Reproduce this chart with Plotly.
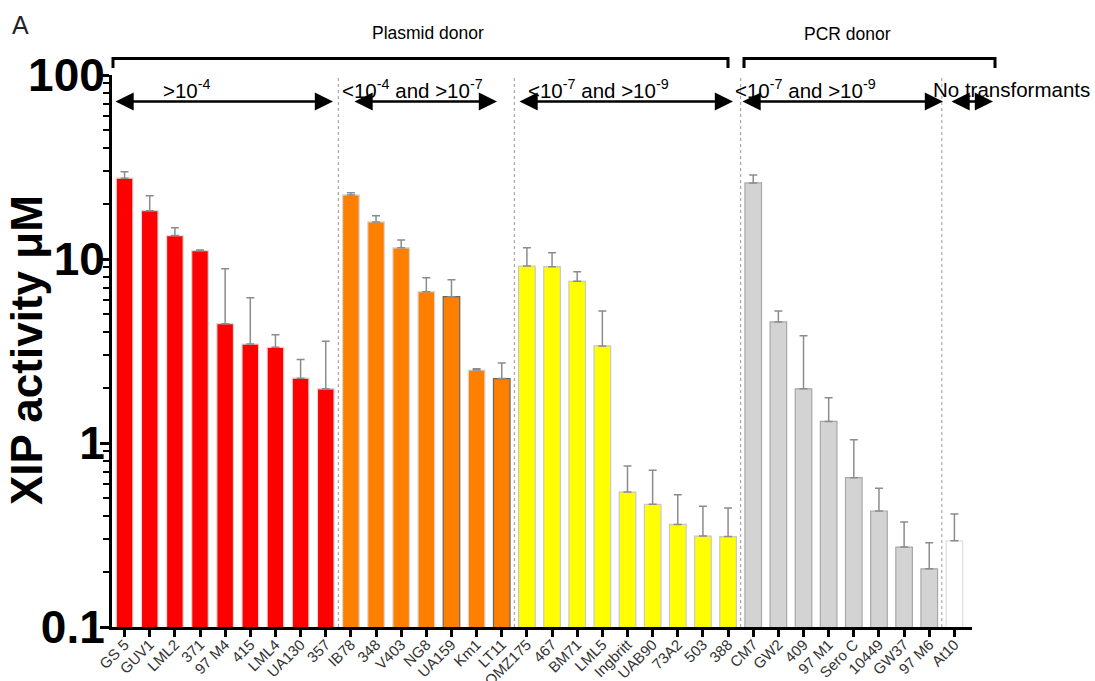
import plotly.graph_objects as go

# ---------------- data ----------------
strains = ["GS 5", "GUV1", "LML2", "371", "97 M4", "415", "LML4", "UA130", "357",
           "IB78", "348", "V403", "NG8", "UA159", "Km1", "LT11",
           "OMZ175", "467", "BM71", "LML5", "Ingbritt", "UAB90", "73A2", "503", "388",
           "CM7", "GW2", "409", "97 M1", "Sero C", "10449", "GW37", "97 M6",
           "At10"]
xip_mean = [27.5, 18.3, 13.4, 11.1, 4.45, 3.45, 3.31, 2.25, 1.97,
            22.3, 15.9, 11.5, 6.64, 6.24, 2.49, 2.24,
            9.16, 9.08, 7.56, 3.37, 0.541, 0.464, 0.361, 0.312, 0.310,
            25.9, 4.55, 1.97, 1.31, 0.648, 0.427, 0.272, 0.207,
            0.294]
xip_upper = [29.8, 22.1, 14.8, 11.2, 8.86, 6.16, 3.88, 2.84, 3.57,
             22.9, 17.2, 12.7, 7.91, 7.72, 2.53, 2.72,
             11.5, 10.8, 8.53, 5.22, 0.750, 0.711, 0.524, 0.453, 0.443,
             28.6, 5.22, 3.83, 1.76, 1.04, 0.567, 0.372, 0.287,
             0.411]
group = (["high"] * 9 + ["mid"] * 7 + ["low"] * 9 + ["pcr"] * 8 + ["none"] * 1)

group_fill = {"high": "#FF0000", "mid": "#FF8000", "low": "#FFFF00",
              "pcr": "#D3D3D3", "none": "#FFFFFF"}
group_edge = {"high": "#D8D8D8", "mid": "#D8D8D8", "low": "#C8C8C8",
              "pcr": "#A8A8A8", "none": "#DDDDDD"}
dark_edge = {"UA159", "LT11"}

fills = [group_fill[g] for g in group]
edges = ["#666666" if s in dark_edge else group_edge[g] for s, g in zip(strains, group)]
err_plus = [u - m for u, m in zip(xip_upper, xip_mean)]

# ---------------- layout geometry ----------------
W, H = 1095, 681
L, R, T, B = 112, 972, 75, 627


def px(x):
    return (x - L) / (R - L)


def py(y):
    return (B - y) / (B - T)


FONT = "Liberation Sans, Arial"

fig = go.Figure()
fig.add_trace(go.Bar(
    x=strains, y=xip_mean,
    marker=dict(color=fills, line=dict(color=edges, width=1.2)),
    width=0.66,
    error_y=dict(type="data", symmetric=False, array=err_plus,
                 arrayminus=[0] * len(err_plus),
                 color="#8C8C8C", thickness=1.5, width=4),
    showlegend=False,
))

shapes = []
# dotted group separators
for sep in [8.5, 15.5, 24.5, 32.5]:
    shapes.append(dict(type="line", xref="x", yref="paper", x0=sep, x1=sep,
                       y0=0, y1=1, line=dict(color="#999999", width=1, dash="dot")))
# donor brackets
for x0, x1 in [(113, 728), (744, 995)]:
    shapes.append(dict(type="path", xref="paper", yref="paper",
                       path=f"M {px(x0)} {py(68)} L {px(x0)} {py(58.5)} L {px(x1)} {py(58.5)} L {px(x1)} {py(68)}",
                       line=dict(color="black", width=3)))

annotations = []
# double-headed arrows
arrow_y = py(101.5)
for a0, a1 in [(114, 333), (353, 497), (518, 733), (741, 943), (950, 993)]:
    annotations.append(dict(xref="paper", yref="paper", x=px(a1), y=arrow_y,
                            axref="pixel", ayref="pixel", ax=-(a1 - a0), ay=0,
                            text="", showarrow=True, arrowhead=2, arrowside="end+start",
                            arrowsize=1.4, arrowwidth=2.6, arrowcolor="black", standoff=0,
                            startstandoff=0))
lab_font = dict(family=FONT, size=20.5, color="black")
range_labels = [(187, "&gt;10<sup>-4</sup>"),
                (412, "&lt;10<sup>-4</sup> and &gt;10<sup>-7</sup>"),
                (598, "&lt;10<sup>-7</sup> and &gt;10<sup>-9</sup>"),
                (805, "&lt;10<sup>-7</sup> and &gt;10<sup>-9</sup>"),
                (1011, "No transformants")]
for cx, txt in range_labels:
    annotations.append(dict(xref="paper", yref="paper", x=px(cx), y=py(89),
                            text=txt, showarrow=False, font=lab_font,
                            xanchor="center", yanchor="middle"))
donor_font = dict(family=FONT, size=17.5, color="black")
annotations.append(dict(xref="paper", yref="paper", x=px(428), y=py(33),
                        xanchor="center", yanchor="middle",
                        text="Plasmid donor", showarrow=False, font=donor_font))
annotations.append(dict(xref="paper", yref="paper", x=px(847), y=py(34),
                        xanchor="center", yanchor="middle",
                        text="PCR donor", showarrow=False, font=donor_font))
annotations.append(dict(xref="paper", yref="paper", x=px(20), y=py(25),
                        xanchor="center", yanchor="middle",
                        text="A", showarrow=False,
                        font=dict(family=FONT, size=25, color="#222222")))
# y-axis title
annotations.append(dict(xref="paper", yref="paper", x=px(26), y=py(350),
                        text="<b>XIP activity μM</b>", showarrow=False, textangle=-90,
                        xanchor="center", yanchor="middle",
                        font=dict(family=FONT, size=44, color="black")))

fig.update_layout(
    width=W, height=H,
    margin=dict(l=L, r=W - R, t=T, b=H - B),
    paper_bgcolor="white", plot_bgcolor="white",
    shapes=shapes, annotations=annotations,
    bargap=0.34,
    xaxis=dict(
        type="category", range=[-0.5, 33.7], automargin=False,
        showline=True, linecolor="black", linewidth=3,
        ticks="outside", ticklen=7, tickwidth=3, tickcolor="black",
        ticklabelstandoff=-7,
        tickangle=-45, tickfont=dict(family=FONT, size=15, color="#333333"),
        showgrid=False, zeroline=False,
    ),
    yaxis=dict(
        type="log", range=[-1, 2], automargin=False,
        tickvals=[0.1, 1, 10, 100], ticktext=["0.1", "1", "10", "100"],
        showline=True, linecolor="black", linewidth=3,
        ticks="outside", ticklen=9, tickwidth=3, tickcolor="black",
        ticklabelstandoff=-14,
        minor=dict(ticks="outside", ticklen=6, tickwidth=2, tickcolor="black",
                   dtick="D1", showgrid=False),
        tickfont=dict(family=FONT, size=46, color="black", weight="bold"),
        showgrid=False, zeroline=False,
    ),
)

fig.write_html("out.html", config={"displayModeBar": False},
               post_script="document.body.style.margin='0';document.body.style.overflow='hidden';")
